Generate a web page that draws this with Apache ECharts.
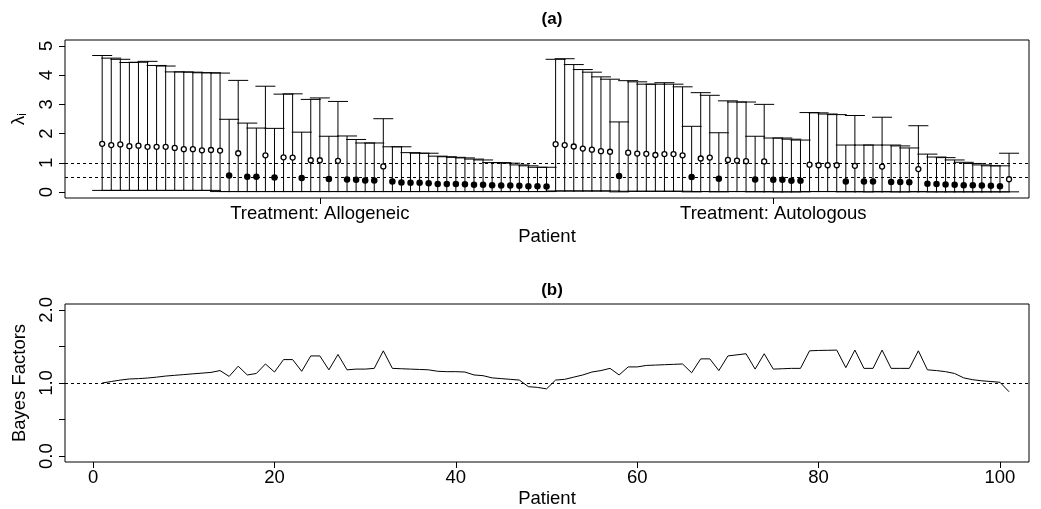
<!DOCTYPE html>
<html>
<head>
<meta charset="utf-8">
<script src="https://cdn.jsdelivr.net/npm/echarts@6/dist/echarts.min.js"></script>
<style>
html,body{margin:0;padding:0;background:#fff;}
#chart{width:1041px;height:509px;}
</style>
</head>
<body>
<div id="chart"></div>
<script>
// ---------- DATA ----------
const treatmentLabels = ['Treatment: Allogeneic', 'Treatment: Autologous'];
const treatmentTickPos = [25, 75];
const patientTicks = [0, 20, 40, 60, 80, 100];
const lambdaTicks = [0, 1, 2, 3, 4, 5];
const bfTicks = [0, 0.5, 1, 1.5, 2];
const bfTickLabels = [0, 1, 2];

// posterior upper limits of lambda_i (patients 1..101)
const upperCI = [
  4.67, 4.58, 4.54, 4.43, 4.44, 4.47, 4.33, 4.31, 4.11, 4.11, 4.10, 4.08, 4.08, 4.07,
  2.49, 3.82, 2.36, 2.19, 3.62, 2.18, 3.35, 3.36, 2.05, 3.17, 3.22, 1.91, 3.10, 1.92,
  1.80, 1.68, 1.68, 2.51, 1.55, 1.55, 1.35, 1.33, 1.33, 1.23, 1.21, 1.19, 1.17, 1.13,
  1.10, 1.01, 1.01, 0.99, 0.93, 0.90, 0.85, 0.85,
  4.54, 4.56, 4.36, 4.19, 4.10, 3.94, 3.86, 2.40, 3.81, 3.77, 3.69, 3.69, 3.74, 3.69,
  3.60, 2.25, 3.40, 3.31, 2.03, 3.12, 3.08, 3.08, 1.91, 3.00, 1.85, 1.85, 1.81, 1.78,
  2.72, 2.71, 2.67, 2.65, 1.61, 2.62, 1.61, 1.61, 2.56, 1.61, 1.58, 1.51, 2.27, 1.30,
  1.20, 1.18, 1.10, 1.02, 0.98, 0.93, 0.90, 0.90, 1.33
];
// posterior lower limits
const lowerCI = [
  0.06, 0.06, 0.06, 0.06, 0.06, 0.06, 0.06, 0.06, 0.06, 0.06, 0.06, 0.06, 0.06, 0.02,
  0.02, 0.02, 0.02, 0.02, 0.02, 0.02, 0.02, 0.02, 0.02, 0.02, 0.02, 0.02, 0.02, 0.02,
  0.02, 0.02, 0.02, 0.02, 0.02, 0.02, 0.02, 0.02, 0.02, 0.02, 0.02, 0.02, 0.02, 0.02,
  0.02, 0.02, 0.02, 0.02, 0.02, 0.02, 0.02, 0.02,
  0.04, 0.04, 0.04, 0.04, 0.04, 0.04, 0.04, 0.01, 0.03, 0.03, 0.03, 0.03, 0.03, 0.03,
  0.03, 0.01, 0.02, 0.02, 0.01, 0.02, 0.02, 0.02, 0.01, 0.02, 0.01, 0.01, 0.01, 0.01,
  0.02, 0.02, 0.02, 0.02, 0.01, 0.02, 0.01, 0.01, 0.02, 0.01, 0.01, 0.01, 0.02, 0.01,
  0.01, 0.01, 0.01, 0.01, 0.01, 0.01, 0.01, 0.01, 0.01
];
// posterior point estimates
const lambdaEst = [
  1.65, 1.61, 1.63, 1.57, 1.59, 1.55, 1.55, 1.55, 1.51, 1.47, 1.47, 1.43, 1.44, 1.42,
  0.57, 1.33, 0.53, 0.53, 1.26, 0.50, 1.19, 1.18, 0.48, 1.09, 1.09, 0.45, 1.07, 0.43,
  0.42, 0.40, 0.40, 0.88, 0.36, 0.33, 0.32, 0.32, 0.30, 0.28, 0.28, 0.28, 0.27, 0.25,
  0.25, 0.24, 0.23, 0.23, 0.22, 0.20, 0.20, 0.19,
  1.64, 1.61, 1.56, 1.49, 1.45, 1.40, 1.38, 0.55, 1.35, 1.32, 1.31, 1.27, 1.30, 1.30,
  1.26, 0.52, 1.15, 1.18, 0.46, 1.10, 1.08, 1.06, 0.43, 1.05, 0.42, 0.42, 0.39, 0.39,
  0.94, 0.92, 0.92, 0.92, 0.36, 0.90, 0.36, 0.36, 0.875, 0.35, 0.35, 0.34, 0.79, 0.29,
  0.28, 0.26, 0.25, 0.24, 0.24, 0.23, 0.22, 0.20, 0.44
];
// 1 = filled point, 0 = open point
const filledFlag = [
  0,0,0,0,0,0,0,0,0,0,0,0,0,0,
  1,0,1,1,0,1,0,0,1,0,0,1,0,1,
  1,1,1,0,1,1,1,1,1,1,1,1,1,1,
  1,1,1,1,1,1,1,1,
  0,0,0,0,0,0,0,1,0,0,0,0,0,0,
  0,1,0,0,1,0,0,0,1,0,1,1,1,1,
  0,0,0,0,1,0,1,1,0,1,1,1,0,1,
  1,1,1,1,1,1,1,1,0
];
// Bayes factors per patient
const bayesFactors = [
  1.00, 1.02, 1.04, 1.055, 1.06, 1.068, 1.08, 1.095, 1.105, 1.115, 1.125, 1.135, 1.145, 1.17,
  1.09, 1.23, 1.11, 1.13, 1.26, 1.15, 1.32, 1.32, 1.16, 1.37, 1.37, 1.18, 1.39, 1.18,
  1.19, 1.19, 1.20, 1.44, 1.20, 1.195, 1.19, 1.185, 1.18, 1.16, 1.155, 1.155, 1.15, 1.11,
  1.10, 1.07, 1.06, 1.05, 1.04, 0.95, 0.94, 0.92,
  1.04, 1.05, 1.08, 1.11, 1.15, 1.17, 1.20, 1.11, 1.22, 1.22, 1.24, 1.245, 1.25, 1.255,
  1.26, 1.14, 1.33, 1.33, 1.17, 1.37, 1.385, 1.40, 1.19, 1.40, 1.19, 1.195, 1.20, 1.20,
  1.44, 1.445, 1.447, 1.45, 1.21, 1.45, 1.20, 1.20, 1.45, 1.20, 1.20, 1.20, 1.44, 1.18,
  1.17, 1.155, 1.13, 1.07, 1.045, 1.03, 1.02, 1.01, 0.88
];

// ---------- BUILD ----------
const intervals = upperCI.map((u, i) => [i + 1, lowerCI[i], u]);
const openPts = [], filledPts = [];
lambdaEst.forEach((v, i) => { (filledFlag[i] ? filledPts : openPts).push([i + 1, v]); });
const bfData = bayesFactors.map((v, i) => [i + 1, v]);

const FONT = 'Liberation Sans, Arial, Helvetica, sans-serif';
const FS = 18.5;
const dotted = { color: '#000', width: 1, type: [3, 3] };
const noLine = { show: false, onZero: false };

const chart = echarts.init(document.getElementById('chart'), null, { renderer: 'canvas' });
chart.setOption({
  animation: false,
  backgroundColor: '#fff',
  textStyle: { fontFamily: FONT, color: '#000' },
  title: [
    { text: '(a)', left: 547, top: 6, textAlign: 'center',
      textStyle: { fontFamily: FONT, fontWeight: 'bold', fontSize: 17, color: '#000' } },
    { text: '(b)', left: 547, top: 277, textAlign: 'center',
      textStyle: { fontFamily: FONT, fontWeight: 'bold', fontSize: 17, color: '#000' } }
  ],
  grid: [
    { left: 65, right: 12, top: 40, height: 158, show: true, borderColor: '#000', borderWidth: 1, backgroundColor: 'transparent' },
    { left: 65, right: 12, top: 304, height: 159, show: true, borderColor: '#000', borderWidth: 1, backgroundColor: 'transparent' }
  ],
  xAxis: [
    { type: 'value', gridIndex: 0, min: -3.1, max: 103.2,
      axisLine: noLine, splitLine: { show: false },
      axisTick: { show: true, length: 6, customValues: treatmentTickPos, lineStyle: { color: '#000' } },
      axisLabel: { customValues: treatmentTickPos, margin: 6, fontSize: FS, color: '#000', fontFamily: FONT,
        formatter: v => treatmentLabels[treatmentTickPos.indexOf(v)] || '' },
      name: 'Patient', nameLocation: 'middle', nameGap: 29,
      nameTextStyle: { fontSize: FS, color: '#000', fontFamily: FONT } },
    { type: 'value', gridIndex: 1, min: -3.1, max: 103.2,
      axisLine: noLine, splitLine: { show: false },
      axisTick: { show: true, length: 6, customValues: patientTicks, lineStyle: { color: '#000' } },
      axisLabel: { customValues: patientTicks, margin: 6, fontSize: FS, color: '#000', fontFamily: FONT },
      name: 'Patient', nameLocation: 'middle', nameGap: 27,
      nameTextStyle: { fontSize: FS, color: '#000', fontFamily: FONT } }
  ],
  yAxis: [
    { type: 'value', gridIndex: 0, min: -0.2, max: 5.2,
      axisLine: noLine, splitLine: { show: false },
      axisTick: { show: true, length: 6, customValues: lambdaTicks, lineStyle: { color: '#000' } },
      axisLabel: { customValues: lambdaTicks, rotate: 90, margin: 9, fontSize: FS, color: '#000', fontFamily: FONT },
      name: '{l|λ}{s|i}', nameLocation: 'middle', nameGap: 32, nameRotate: 90,
      nameTextStyle: { fontFamily: FONT, color: '#000',
        rich: { l: { fontSize: FS, fontFamily: FONT, color: '#000' },
                s: { fontSize: 12, fontFamily: FONT, color: '#000', verticalAlign: 'bottom', padding: [8, 0, 0, 0] } } } },
    { type: 'value', gridIndex: 1, min: -0.08, max: 2.08,
      axisLine: noLine, splitLine: { show: false },
      axisTick: { show: true, length: 6, customValues: bfTicks, lineStyle: { color: '#000' } },
      axisLabel: { customValues: bfTickLabels, rotate: 90, margin: 9, fontSize: FS, color: '#000', fontFamily: FONT,
        formatter: v => Number(v).toFixed(1) },
      name: 'Bayes Factors', nameLocation: 'middle', nameGap: 32, nameRotate: 90,
      nameTextStyle: { fontSize: FS, color: '#000', fontFamily: FONT } }
  ],
  series: [
    { type: 'custom', xAxisIndex: 0, yAxisIndex: 0, data: intervals, z: 2,
      renderItem: function (params, api) {
        const x = api.value(0), lo = api.value(1), hi = api.value(2);
        const a = api.coord([x, lo]), b = api.coord([x, hi]);
        const w = 10;
        const st = { stroke: '#000', lineWidth: 1 };
        return { type: 'group', children: [
          { type: 'line', shape: { x1: a[0], y1: a[1], x2: b[0], y2: b[1] }, style: st },
          { type: 'line', shape: { x1: b[0] - w, y1: b[1], x2: b[0] + w, y2: b[1] }, style: st },
          { type: 'line', shape: { x1: a[0] - w, y1: a[1], x2: a[0] + w, y2: a[1] }, style: st }
        ]};
      },
      markLine: { silent: true, symbol: 'none', label: { show: false }, lineStyle: dotted,
        data: [{ yAxis: 1 }, { yAxis: 0.5 }] } },
    { type: 'scatter', xAxisIndex: 0, yAxisIndex: 0, data: openPts, z: 5,
      symbol: 'circle', symbolSize: 5,
      itemStyle: { color: '#fff', borderColor: '#000', borderWidth: 1.3, opacity: 1 } },
    { type: 'scatter', xAxisIndex: 0, yAxisIndex: 0, data: filledPts, z: 5,
      symbol: 'circle', symbolSize: 6.5,
      itemStyle: { color: '#000', opacity: 1 } },
    { type: 'line', xAxisIndex: 1, yAxisIndex: 1, data: bfData, showSymbol: false, symbol: 'none',
      lineStyle: { color: '#000', width: 1 },
      markLine: { silent: true, symbol: 'none', label: { show: false }, lineStyle: dotted,
        data: [{ yAxis: 1 }] } }
  ]
});
</script>
</body>
</html>
